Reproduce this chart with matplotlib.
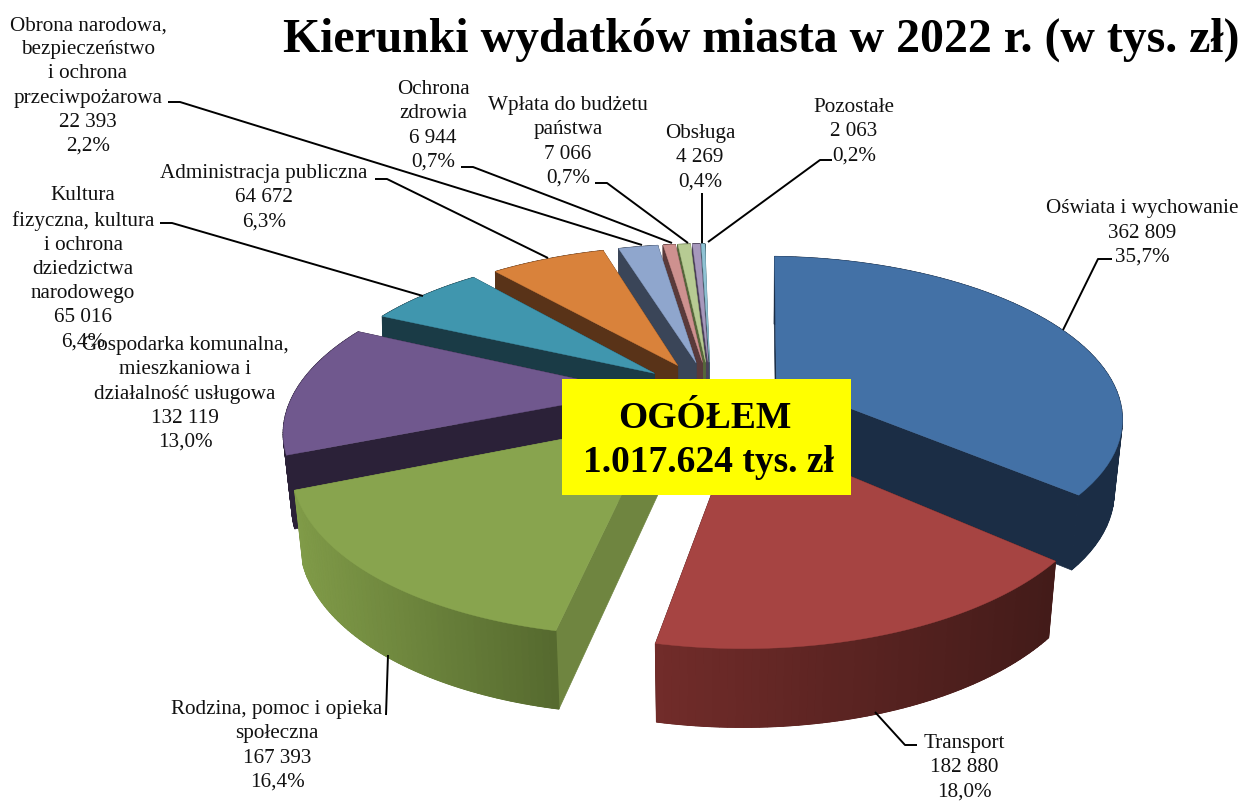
import numpy as np
import matplotlib
matplotlib.use('Agg')
import matplotlib.pyplot as plt
from matplotlib.patches import Polygon, Rectangle

plt.rcParams['font.family'] = ['Liberation Serif', 'DejaVu Serif']

names = ['Oświata i wychowanie', 'Transport', 'Rodzina, pomoc i opieka\nspołeczna',
         'Gospodarka komunalna,\nmieszkaniowa i\ndziałalność usługowa',
         'Kultura\nfizyczna, kultura\ni ochrona\ndziedzictwa\nnarodowego',
         'Administracja publiczna', 'Obrona narodowa,\nbezpieczeństwo\ni ochrona\nprzeciwpożarowa',
         'Ochrona\nzdrowia', 'Wpłata do budżetu\npaństwa', 'Obsługa', 'Pozostałe']
values = [362809, 182880, 167393, 132119, 65016, 64672, 22393, 6944, 7066, 4269, 2063]
percents = ['35,7%', '18,0%', '16,4%', '13,0%', '6,4%', '6,3%', '2,2%', '0,7%', '0,7%', '0,4%', '0,2%']

top_colors = ['#4371A6', '#A64442', '#88A44E', '#70588E', '#4096AE', '#D9823B',
              '#8FA6CD', '#CE918F', '#B7CB93', '#A698BC', '#8FC2D4']
wall_left = ['#1B2D45', '#722C2A', '#809B48', '#2B2138', '#1A3B46', '#593318',
             '#3A4558', '#5A3A3A', '#55663A', '#4A4058', '#3E5A64']
wall_right = ['#1B2D45', '#431B19', '#566A2F', '#2B2138', '#1A3B46', '#593318',
              '#3A4558', '#5A3A3A', '#55663A', '#4A4058', '#3E5A64']
side_colors = ['#1B2D45', '#431B19', '#6F8540', '#2B2138', '#1A3B46', '#593318',
               '#3A4558', '#5A3A3A', '#55663A', '#4A4058', '#3E5A64']

# label centre x, y in pixels
label_pos = [(1142, 233), (964, 768), (277, 746), (185, 394), (83, 269), (264, 198),
             (88, 86), (433, 126), (568, 142), (700, 158), (854, 132)]
leaders = [[(1112, 259), (1098, 259), (1063, 330)],
           [(917, 745), (905, 745), (875, 712)],
           [(386, 715), (388, 655)],
           None,
           [(160, 223), (172, 223), (423, 296)],
           [(375, 179), (387, 179), (548, 258)],
           [(168, 102), (180, 102), (642, 245)],
           [(461, 167), (473, 167), (672, 243)],
           [(595, 183), (607, 183), (688, 243)],
           [(702, 193), (702, 243)],
           [(832, 160), (820, 160), (708, 242)]]

# pie projection, pixels
cx, cy = 710, 395
rx, ry = 342, 156
persp = 0.213
depth = 72
explode = 0.22


def project(u, v, low=False):
    s = 1 / (1 + persp * v)
    x = cx + rx * u * s
    y = cy - ry * v * s
    if low:
        y = y + depth * s ** 0.3
        x = cx + (x - cx) * np.where(v < 0, 0.98, 0.995)
    return np.column_stack([x, y])


def warp(th):
    # small angle correction for the view of the original 3d chart
    return th + np.radians(np.interp(np.degrees(th), [0, 128.5, 193.3, 252.3, 299, 322, 360],
                                     [2, 3, -2, -4.5, -4, -3, -1]))


def mix(c1, c2, t):
    a = np.array(matplotlib.colors.to_rgb(c1))
    b = np.array(matplotlib.colors.to_rgb(c2))
    return tuple(a + (b - a) * t)


fig = plt.figure(figsize=(12.42, 8.01), dpi=100)
ax = fig.add_axes([0, 0, 1, 1])
ax.set_xlim(0, 1242)
ax.set_ylim(801, 0)
ax.axis('off')

edges = np.concatenate([[0], np.cumsum(values)]) / sum(values) * 2 * np.pi
mids = (edges[:-1] + edges[1:]) / 2

# far slices first so the near ones cover them
order = sorted(range(len(values)), key=lambda i: -np.cos(mids[i]))
for i in order:
    ou = explode * np.sin(mids[i])
    ov = explode * np.cos(mids[i])
    th = warp(np.linspace(edges[i], edges[i + 1], 60))
    u = ou + np.sin(th)
    v = ov + np.cos(th)
    top = project(u, v)
    low = project(u, v, True)
    apex_top = project(np.array([ou]), np.array([ov]))
    apex_low = project(np.array([ou]), np.array([ov]), True)

    for end in [0, -1]:
        quad = [apex_top[0], top[end], low[end], apex_low[0]]
        ax.add_patch(Polygon(quad, closed=True, fc=side_colors[i], ec=side_colors[i], lw=0.5))

    # outer wall: one solid piece, then facets for the shading
    wall = np.vstack([top, low[::-1]])
    base = mix(wall_left[i], wall_right[i], 0.5)
    ax.add_patch(Polygon(wall, closed=True, fc=base, ec=base, lw=0.5))
    xmin, xmax = top[:, 0].min(), top[:, 0].max()
    for k in range(len(th) - 1):
        col = mix(wall_left[i], wall_right[i], (top[k, 0] - xmin) / (xmax - xmin))
        quad = [top[k], top[k + 1], low[k + 1], low[k]]
        ax.add_patch(Polygon(quad, closed=True, fc=col, ec=col, lw=0.8))

    outline = np.vstack([apex_top, top])
    ax.add_patch(Polygon(outline, closed=True, fc=top_colors[i], ec=top_colors[i], lw=0.3))

for line in leaders:
    if line is None:
        continue
    xs = [p[0] for p in line]
    ys = [p[1] for p in line]
    ax.plot(xs, ys, color='black', lw=1.4, solid_capstyle='butt', zorder=5)

for i in range(len(values)):
    amount = f'{values[i]:,}'.replace(',', ' ')
    ax.text(label_pos[i][0], label_pos[i][1], names[i] + '\n' + amount + '\n' + percents[i],
            ha='center', va='center', ma='center', fontsize=15.2, linespacing=1.37,
            color='#111111', zorder=6)

ax.add_patch(Rectangle((562, 379), 289, 116, fc='#FFFF00', ec='none', zorder=7))
ax.text(705, 418, 'OGÓŁEM', ha='center', va='center', fontsize=27, fontweight='bold', zorder=8)
ax.text(708, 462, '1.017.624 tys. zł', ha='center', va='center', fontsize=27, fontweight='bold', zorder=8)

ax.text(761, 40, 'Kierunki wydatków miasta w 2022 r. (w tys. zł)', ha='center', va='center',
        fontsize=34.4, fontweight='bold', zorder=8)

fig.savefig('out.png', dpi=100)
